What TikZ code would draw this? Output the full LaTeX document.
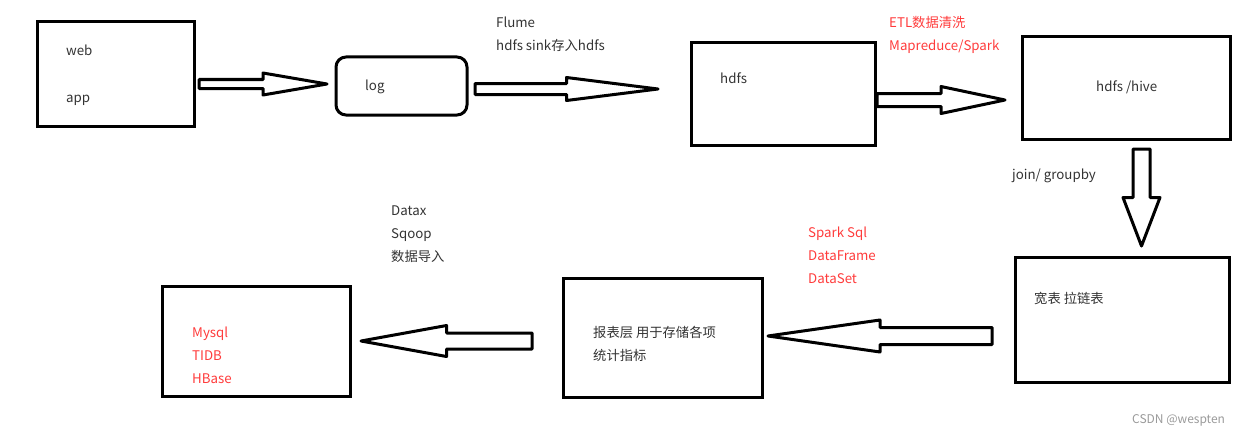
\documentclass[tikz,border=0pt]{standalone}
\usepackage{fontspec}
\setmainfont{Noto Sans CJK SC}
\usepackage{tikz}
\usepackage{xcolor}
\usetikzlibrary{calc}
\definecolor{ink}{HTML}{000000}
\definecolor{textgray}{HTML}{333333}
\definecolor{accentred}{HTML}{FF3B3B}
\definecolor{markgray}{HTML}{9A9A9A}
\tikzset{
  stagebox/.style={draw=ink,line width=3pt,inner sep=0pt},
  logbox/.style={stagebox,rounded corners=10pt},
  txt/.style={text=textgray,anchor=base west,align=left,inner sep=0pt,
              font=\fontsize{13.3}{23}\selectfont},
  redtxt/.style={txt,text=accentred},
  fatarr/.style={draw=ink,line width=3pt,line join=round,fill=white}
}
% hollow block arrow: [opts]{start}{tip}{shaft half width}{head half width}
\newcommand{\fatarrow}[5][]{%
  \draw[fatarr,#1] ($(#2)!#4!90:(#3)$) -- ($(#2)!.5!(#3)!#4!90:(#3)$)
    -- ($(#2)!.5!(#3)!#5!90:(#3)$) -- (#3)
    -- ($(#2)!.5!(#3)!#5!-90:(#3)$) -- ($(#2)!.5!(#3)!#4!-90:(#3)$)
    -- ($(#2)!#4!-90:(#3)$) -- cycle;}

\begin{document}
\begin{tikzpicture}[x=1pt,y=-1pt]
  \useasboundingbox (0,0) rectangle (1242,436);

  % stages
  \node[stagebox,minimum width=157,minimum height=104] (src) at (115.5,74) {};
  \node[logbox,minimum width=131,minimum height=58] (log) at (401.5,86) {};
  \node[stagebox,minimum width=184,minimum height=102] (hdfs) at (783,94) {};
  \node[stagebox,minimum width=208,minimum height=102] (hive) at (1126,88) {};
  \node[stagebox,minimum width=214,minimum height=125] (wide) at (1122,319.5) {};
  \node[stagebox,minimum width=199,minimum height=119] (report) at (662.5,337.5) {};
  \node[stagebox,minimum width=188,minimum height=110] (db) at (256,341) {};

  % texts in the boxes (base = last line)
  \node[txt] (web) at (66,56) {web};
  \node[txt] (app) at (66,102) {app};
  \node[txt] (logtxt) at (365,90) {log};
  \node[txt] (hdfstxt) at (720,83) {hdfs};
  \node[txt] (hivetxt) at (1096,92) {hdfs /hive};
  \node[txt] (widetxt) at (1034,303) {宽表 拉链表};
  \node[txt] (reporttxt) at (593,360) {报表层 用于存储各项\\统计指标};
  \node[redtxt] (dbtxt) at (192,383) {Mysql\\TIDB\\HBase};

  % texts on the arrows
  \node[txt] (flume) at (496,51) {Flume\\hdfs sink存入hdfs};
  \node[redtxt] (etl) at (889,51) {ETL数据清洗\\Mapreduce/Spark};
  \node[txt] (join) at (1012,179) {join/ groupby};
  \node[redtxt] (sparksql) at (808,283) {Spark Sql\\DataFrame\\DataSet};
  \node[txt] (datax) at (391,261) {Datax\\Sqoop\\数据导入};

  % block arrows
  \coordinate (a1s) at (199,84);   \coordinate (a1t) at (327,84);
  \coordinate (a2s) at (475,89);   \coordinate (a2t) at (658,89);
  \coordinate (a3s) at (877,100);  \coordinate (a3t) at (1005,100);
  \coordinate (a4s) at (1141.5,149); \coordinate (a4t) at (1141.5,246);
  \coordinate (a5s) at (992,336);  \coordinate (a5t) at (768,336);
  \coordinate (a6s) at (532,341);  \coordinate (a6t) at (361,341);
  \fatarrow{a1s}{a1t}{4.5pt}{11pt}
  \fatarrow{a2s}{a2t}{5.5pt}{11.5pt}
  \fatarrow{a3s}{a3t}{6.5pt}{13.5pt}
  \fatarrow{a4s}{a4t}{8.5pt}{18.5pt}
  \fatarrow{a5s}{a5t}{8.5pt}{16pt}
  \fatarrow{a6s}{a6t}{8pt}{15.5pt}

  \node[txt,text=markgray,font=\fontsize{12}{14}\selectfont] (mark) at (1132,423) {CSDN @wespten};
\end{tikzpicture}
\end{document}
